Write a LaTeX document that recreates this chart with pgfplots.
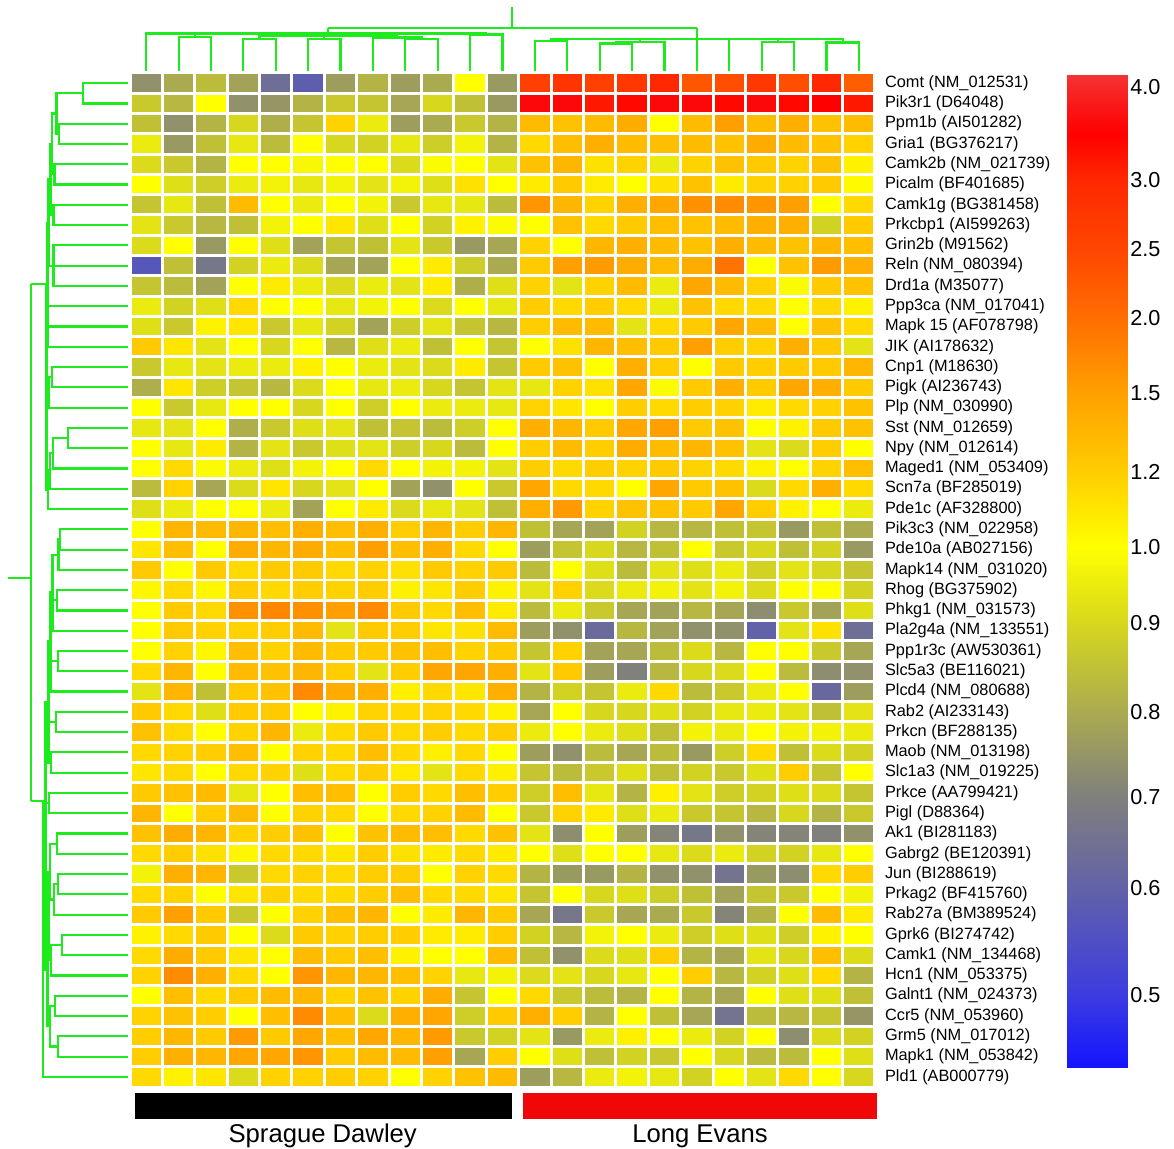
\documentclass[border=0pt]{standalone}
\usepackage{pgfplots}
\pgfplotsset{compat=1.18}
\usepackage{pgfplotstable}
\usepackage{fontspec}
\setmainfont{Liberation Sans}
\definecolor{dgreen}{RGB}{30,235,30}
\definecolor{lered}{RGB}{240,8,8}
\pgfdeclareplotmark{cell}{\pgfpathrectangle{\pgfpoint{-8.8pt}{-5.2pt}}{\pgfpoint{17.6pt}{10.4pt}}\pgfusepathqfill}
% ratio -> position on the (non-linear) colour bar
\pgfmathdeclarefunction{rpos}{1}{\pgfmathparse{(#1<0.5) ? ((#1-0.43)*1.0429) : ((#1<0.6) ? (0.073+(#1-0.5)*1.07) : ((#1<0.7) ? (0.18+(#1-0.6)*0.92) : ((#1<0.8) ? (0.272+(#1-0.7)*0.86) : ((#1<0.9) ? (0.358+(#1-0.8)*0.9) : ((#1<1) ? (0.448+(#1-0.9)*0.76) : ((#1<1.2) ? (0.524+(#1-1)*0.38) : ((#1<1.5) ? (0.6+(#1-1.2)*0.26333) : ((#1<2) ? (0.679+(#1-1.5)*0.152) : ((#1<2.5) ? (0.755+(#1-2)*0.14) : ((#1<3) ? (0.825+(#1-2.5)*0.138) : ((#1<3.5) ? (0.894+(#1-3)*0.094) : (0.941+(#1-3.5)*0.0937))))))))))))}}
\pgfplotsset{dendro/.style={draw=dgreen, line width=1.3pt, line join=miter},
  colormap={hm}{rgb255(0pt)=(20,20,255); rgb255(73pt)=(60,60,225); rgb255(180pt)=(98,98,168); rgb255(272pt)=(128,128,125); rgb255(358pt)=(170,170,80); rgb255(448pt)=(215,215,30); rgb255(524pt)=(255,255,0); rgb255(600pt)=(255,205,0); rgb255(679pt)=(255,160,0); rgb255(755pt)=(255,110,0); rgb255(825pt)=(255,70,0); rgb255(894pt)=(255,40,0); rgb255(941pt)=(255,0,0); rgb255(1000pt)=(245,50,50)}}
\pgfplotstableread{
row c1 c2 c3 c4 c5 c6 c7 c8 c9 c10 c11 c12 c13 c14 c15 c16 c17 c18 c19 c20 c21 c22 c23
1 0.74 0.80 0.84 0.78 0.64 0.59 0.77 0.82 0.77 0.80 1.00 0.76 2.60 2.80 2.60 2.75 3.00 2.30 2.40 2.75 2.40 3.00 2.20
2 0.87 0.83 1.00 0.74 0.75 0.82 0.87 0.86 0.79 0.90 0.85 0.76 3.60 3.60 3.20 3.40 3.60 3.60 3.40 3.60 3.40 3.50 3.20
3 0.85 0.74 0.82 0.90 0.81 0.86 1.18 0.95 0.77 0.80 0.87 0.82 1.32 1.27 1.32 1.42 1.00 1.32 1.50 1.32 1.40 1.27 1.32
4 0.95 0.76 0.85 0.94 0.84 1.00 0.90 0.89 0.94 0.88 0.97 0.82 1.15 1.30 1.40 1.32 1.30 1.32 1.27 1.42 1.32 1.27 1.18
5 0.91 0.87 0.82 1.00 1.00 0.98 1.00 1.00 0.91 0.99 1.00 0.93 1.27 1.35 1.12 1.18 0.95 1.18 1.27 1.22 1.18 1.27 1.05
6 1.00 0.92 0.88 0.95 0.97 0.94 0.97 0.93 0.97 0.92 1.12 1.00 1.08 1.22 1.08 1.00 1.12 1.27 1.08 1.18 1.18 1.22 1.02
7 0.86 0.94 0.85 1.32 1.00 0.95 1.00 0.97 0.87 0.94 0.94 0.84 1.60 1.35 1.18 1.40 1.45 1.65 1.70 1.60 1.50 1.00 1.15
8 0.93 0.87 0.83 0.85 0.97 1.00 1.10 0.92 1.00 0.89 1.05 0.99 1.00 1.27 1.15 1.22 1.30 1.27 1.32 1.40 1.40 0.89 1.22
9 0.91 1.00 0.76 1.00 0.92 0.78 0.86 0.85 0.93 0.87 0.76 0.79 1.18 1.00 1.35 1.40 1.32 1.27 1.40 1.32 1.27 1.35 1.30
10 0.57 0.85 0.67 0.89 0.95 0.91 0.79 0.78 1.00 1.08 0.88 0.80 1.22 1.50 1.55 1.42 1.32 1.42 1.95 1.00 1.27 1.55 1.40
11 0.86 0.84 0.78 1.00 1.08 0.95 0.91 0.95 0.93 1.08 0.81 0.92 1.18 0.93 1.18 1.32 0.95 1.45 1.32 1.18 0.99 1.22 1.27
12 0.95 0.89 0.92 1.15 1.00 1.00 0.94 0.97 1.00 0.91 1.00 0.94 1.20 1.15 1.20 1.15 0.95 1.27 1.15 1.15 1.00 1.15 1.05
13 0.92 0.87 1.05 1.10 0.87 0.94 0.89 0.78 0.88 0.93 0.86 0.83 1.20 1.32 1.32 0.93 1.15 1.22 1.45 1.32 1.00 1.27 1.15
14 1.22 1.10 0.93 1.00 0.90 1.00 0.83 0.92 0.95 0.85 1.00 0.86 1.00 1.12 1.35 1.30 1.22 1.50 1.20 1.18 1.40 1.22 0.93
15 0.87 0.94 0.93 0.95 0.95 1.06 1.00 0.95 0.93 0.91 1.08 0.86 1.22 1.27 1.00 1.40 1.20 1.00 1.22 1.20 1.22 1.22 1.35
16 0.81 1.10 0.88 0.86 0.83 0.91 1.00 0.94 0.95 0.90 0.86 0.93 0.94 1.18 1.12 1.45 0.99 1.22 1.40 1.22 1.45 1.40 1.22
17 1.00 0.87 0.94 1.00 1.00 0.90 1.00 0.88 1.00 0.95 0.95 0.94 1.18 1.10 1.00 1.20 1.15 1.20 1.18 1.08 1.15 1.18 1.27
18 0.94 0.93 1.00 0.81 0.87 0.92 0.93 0.85 0.86 0.84 0.88 1.00 1.40 1.35 1.22 1.45 1.50 1.22 1.27 1.00 1.05 1.22 1.27
19 1.00 0.94 1.08 0.82 0.93 0.87 0.92 0.93 0.88 0.90 0.84 1.00 1.20 1.32 1.20 1.42 1.32 1.35 1.27 0.93 0.91 1.20 1.00
20 1.00 1.15 0.99 0.95 0.92 0.97 1.00 1.15 1.00 0.97 0.97 0.93 1.20 1.15 1.20 1.18 1.22 1.18 1.15 1.05 1.00 1.18 1.30
21 0.84 1.18 0.79 0.91 1.10 0.90 0.93 1.00 0.78 0.74 1.00 0.87 1.45 1.15 1.15 1.00 1.45 1.22 1.27 0.91 1.15 1.40 1.15
22 0.92 0.95 1.00 1.00 0.95 0.78 1.00 1.08 0.91 0.94 0.93 0.85 1.40 1.55 1.18 1.27 1.27 1.22 1.45 1.20 1.05 1.00 0.95
23 1.00 1.35 1.32 1.35 1.30 1.40 1.30 1.40 1.20 1.35 1.20 1.35 0.85 0.79 0.78 0.89 0.83 0.83 0.85 0.86 0.76 0.85 0.80
24 1.10 1.30 1.00 1.42 1.35 1.42 1.30 1.50 1.30 1.40 1.15 1.00 0.77 0.86 0.90 0.83 0.85 1.00 0.87 0.90 0.85 0.89 0.76
25 1.22 1.00 1.22 1.15 1.22 1.22 1.15 1.18 1.12 1.22 1.18 1.22 0.84 1.00 0.92 0.84 0.93 0.92 0.95 0.89 0.93 0.90 0.86
26 1.03 1.15 1.03 1.20 1.15 1.20 1.18 1.20 1.05 1.10 1.20 1.05 0.93 1.18 0.91 0.95 0.97 0.93 0.97 0.91 1.00 1.00 0.89
27 1.00 1.22 1.15 1.65 1.75 1.65 1.50 1.70 1.22 1.15 1.30 1.08 0.84 0.95 0.87 0.79 0.78 0.83 0.79 0.73 0.87 0.78 0.92
28 1.00 1.22 1.18 1.18 1.20 1.32 0.93 1.22 1.20 1.10 1.12 1.32 0.77 0.74 0.63 0.83 0.78 0.74 0.74 0.60 0.93 1.12 0.64
29 1.00 1.18 1.03 1.30 1.18 1.32 1.22 1.22 1.27 1.30 1.18 1.22 0.86 1.18 0.78 0.79 0.84 0.91 0.83 1.00 1.00 0.87 0.79
30 1.15 1.35 1.00 1.32 1.27 1.35 1.20 0.93 1.20 1.45 1.45 1.40 0.93 1.22 0.77 0.70 0.83 0.90 0.91 1.00 0.84 0.73 0.74
31 0.93 1.35 0.85 1.22 1.27 1.70 1.42 1.40 1.06 1.15 1.10 1.40 0.82 0.89 0.86 0.95 1.15 0.84 0.87 0.95 1.00 0.62 0.77
32 1.22 1.15 0.92 1.22 1.22 1.00 1.05 1.18 1.15 1.18 1.15 1.05 0.79 1.00 0.90 0.90 0.92 0.89 0.94 0.95 0.93 0.85 0.93
33 1.27 1.15 1.00 1.18 1.35 0.95 1.15 1.22 1.15 1.20 1.15 1.20 0.95 1.00 0.95 0.92 0.85 0.97 0.95 1.00 0.97 0.97 0.95
34 1.15 1.18 1.20 1.30 1.00 1.18 1.15 1.30 1.15 1.06 1.15 1.00 0.77 0.74 0.84 0.79 0.84 0.76 0.88 1.15 0.85 0.91 0.89
35 1.10 1.15 1.00 1.15 1.18 0.92 1.15 1.20 1.08 0.93 1.15 1.06 0.86 0.84 0.87 0.92 0.85 0.89 0.87 0.92 1.20 0.86 1.00
36 1.22 1.27 1.32 0.94 1.00 1.30 1.30 1.00 1.20 1.15 1.30 1.20 0.88 1.30 0.94 0.82 1.06 0.93 0.88 0.89 0.92 0.91 0.86
37 1.35 1.00 1.20 1.32 1.00 1.18 1.15 1.00 1.15 1.18 1.32 1.00 0.87 1.18 1.08 0.92 0.95 0.87 0.86 0.83 0.90 0.82 0.87
38 1.27 1.42 1.35 1.18 1.20 1.27 1.00 1.27 1.32 1.30 1.15 1.27 0.93 0.73 1.00 0.77 0.71 0.67 0.74 0.71 0.71 0.70 0.74
39 1.15 1.20 1.12 1.03 1.15 1.15 1.10 1.20 1.12 1.08 1.15 1.08 1.00 0.92 1.00 1.00 0.94 0.91 0.95 0.89 0.89 0.94 1.00
40 0.97 1.40 1.35 0.87 1.15 1.18 1.15 1.20 1.20 1.00 1.18 1.15 0.82 0.76 0.76 0.82 0.74 0.74 0.66 0.76 0.73 1.15 1.20
41 1.15 1.18 1.00 1.10 1.18 1.15 1.15 1.20 1.30 1.15 1.15 1.10 0.86 1.00 0.90 0.92 0.88 0.85 0.78 0.86 0.87 1.00 0.97
42 1.22 1.50 1.22 0.87 1.00 1.18 1.30 1.35 1.00 1.08 1.35 1.22 0.79 0.67 0.87 0.79 0.80 0.87 0.71 0.82 1.00 1.32 1.08
43 1.05 1.15 1.22 1.00 0.91 1.22 1.18 1.20 1.20 1.08 1.08 1.20 0.89 0.83 0.97 1.00 0.95 0.88 0.92 0.92 0.88 1.05 1.00
44 1.15 1.42 1.22 1.10 1.00 1.32 1.22 1.30 1.05 1.00 1.00 1.32 0.85 0.74 0.91 0.92 1.20 0.82 0.79 0.93 0.90 1.30 0.91
45 1.18 1.70 1.40 1.15 1.00 1.60 1.35 1.35 1.30 1.18 0.94 0.97 0.91 0.93 0.90 0.94 1.00 1.20 0.83 0.89 0.92 1.15 0.82
46 1.00 1.30 1.15 1.22 1.32 1.35 1.18 1.27 1.18 1.42 0.86 1.00 1.15 0.87 0.84 0.82 1.00 0.82 0.79 1.00 0.92 0.92 0.85
47 1.18 1.27 1.20 1.00 1.30 1.70 1.30 0.91 1.40 1.45 0.88 1.22 1.40 1.20 0.82 1.00 0.85 0.79 0.66 0.84 0.83 0.86 0.75
48 1.20 1.35 1.22 1.55 1.22 1.45 1.30 1.45 1.35 1.55 0.87 0.89 0.93 0.76 0.95 1.06 1.00 0.95 0.89 1.00 0.73 0.91 0.89
49 1.20 1.40 1.35 1.45 1.45 1.60 1.22 1.32 1.32 1.50 0.79 1.20 1.00 0.92 0.85 0.89 0.87 1.00 0.90 0.84 0.84 1.00 0.92
50 1.15 1.05 1.10 0.91 1.18 1.18 1.20 1.18 1.00 1.18 1.27 1.32 0.77 0.83 0.95 0.97 0.94 0.89 1.00 0.93 1.15 1.00 0.90
}\hmdata
\begin{document}
\begin{tikzpicture}
\path[use as bounding box, fill=white] (0,0) rectangle (704.4pt,688.8pt);
% ---------------- heat map ----------------
\begin{axis}[
  name=hm, at={(78pt,645pt)}, anchor=north west,
  scale only axis, width=447pt, height=608.4pt,
  xmin=0.5, xmax=23.5, ymin=0.5, ymax=50.5, y dir=reverse,
  clip=false,
  axis line style={draw=none},
  xtick=\empty,
  ytick={1,...,50},
  yticklabels={Comt (NM\_012531), Pik3r1 (D64048), Ppm1b (AI501282), Gria1 (BG376217), Camk2b (NM\_021739), Picalm (BF401685), Camk1g (BG381458), Prkcbp1 (AI599263), Grin2b (M91562), Reln (NM\_080394), Drd1a (M35077), Ppp3ca (NM\_017041), Mapk 15 (AF078798), JIK (AI178632), Cnp1 (M18630), Pigk (AI236743), Plp (NM\_030990), Sst (NM\_012659), Npy (NM\_012614), Maged1 (NM\_053409), Scn7a (BF285019), Pde1c (AF328800), Pik3c3 (NM\_022958), Pde10a (AB027156), Mapk14 (NM\_031020), Rhog (BG375902), Phkg1 (NM\_031573), Pla2g4a (NM\_133551), Ppp1r3c (AW530361), Slc5a3 (BE116021), Plcd4 (NM\_080688), Rab2 (AI233143), Prkcn (BF288135), Maob (NM\_013198), Slc1a3 (NM\_019225), Prkce (AA799421), Pigl (D88364), Ak1 (BI281183), Gabrg2 (BE120391), Jun (BI288619), Prkag2 (BF415760), Rab27a (BM389524), Gprk6 (BI274742), Camk1 (NM\_134468), Hcn1 (NM\_053375), Galnt1 (NM\_024373), Ccr5 (NM\_053960), Grm5 (NM\_017012), Mapk1 (NM\_053842), Pld1 (AB000779)},
  yticklabel pos=right,
  major tick length=0pt,
  yticklabel style={font=\fontsize{9.8}{10}\selectfont, xshift=2.5pt},
  colormap name=hm,
  point meta min=0, point meta max=1,
]
\pgfplotsinvokeforeach{1,...,23}{
  \addplot[scatter, only marks, mark=cell,
    scatter/use mapped color={fill=mapped color, draw=none},
    point meta={rpos(\thisrow{c#1})}] table[x expr=#1, y=row] \hmdata;
}
\end{axis}
% ---------------- colour bar ----------------
\begin{axis}[
  at={(640.2pt,643.8pt)}, anchor=north west,
  scale only axis, width=36pt, height=595.2pt,
  xmin=0, xmax=1, ymin=0, ymax=1,
  colormap name=hm, point meta min=0, point meta max=1,
  axis line style={draw=none}, xtick=\empty,
  ytick={0.073,0.180,0.272,0.358,0.448,0.524,0.600,0.679,0.755,0.825,0.894,0.988},
  yticklabels={0.5,0.6,0.7,0.8,0.9,1.0,1.2,1.5,2.0,2.5,3.0,4.0},
  yticklabel pos=right, major tick length=0pt,
  yticklabel style={font=\fontsize{13}{13}\selectfont, xshift=-1.5pt},
]
\addplot[surf, shader=interp, mesh/cols=2, mesh/rows=14, point meta=y] coordinates {
(0,0) (1,0)

(0,0.073) (1,0.073)

(0,0.180) (1,0.180)

(0,0.272) (1,0.272)

(0,0.358) (1,0.358)

(0,0.448) (1,0.448)

(0,0.524) (1,0.524)

(0,0.600) (1,0.600)

(0,0.679) (1,0.679)

(0,0.755) (1,0.755)

(0,0.825) (1,0.825)

(0,0.894) (1,0.894)

(0,0.941) (1,0.941)

(0,1) (1,1)
};
\end{axis}
% ---------------- top dendrogram (samples) ----------------
\begin{axis}[
  at={(78pt,688.8pt)}, anchor=north west,
  scale only axis, width=447pt, height=43.8pt,
  xmin=0.5, xmax=23.5, ymin=0, ymax=73, y dir=reverse,
  hide axis, clip=false]
\addplot[dendro] coordinates {(2,71) (2,36.8) (3,36.8) (3,71)};
\addplot[dendro] coordinates {(4,71) (4,38.7) (5,38.7) (5,71)};
\addplot[dendro] coordinates {(6,71) (6,39.3) (7,39.3) (7,71)};
\addplot[dendro] coordinates {(9,71) (9,38.7) (10,38.7) (10,71)};
\addplot[dendro] coordinates {(8,71) (8,37.5) (9.5,37.5) (9.5,38.7)};
\addplot[dendro] coordinates {(4.5,38.7) (4.5,36) (8.75,36) (8.75,37.5)};
\addplot[dendro] coordinates {(6.5,39.3) (6.5,36)};
\addplot[dendro] coordinates {(11,71) (11,34.5) (12,34.5) (12,71)};
\addplot[dendro] coordinates {(1,71) (1,33.5) (11.5,33.5) (11.5,34.5)};
\addplot[dendro] coordinates {(2.5,36.8) (2.5,33.5)};
\addplot[dendro] coordinates {(6.6,36) (6.6,28)};
\addplot[dendro] coordinates {(13,71) (13,41) (14,41) (14,71)};
\addplot[dendro] coordinates {(15,71) (15,43.5) (16,43.5) (16,71)};
\addplot[dendro] coordinates {(15.5,43.5) (15.5,42) (17,42) (17,71)};
\addplot[dendro] coordinates {(20,71) (20,42) (21,42) (21,71)};
\addplot[dendro] coordinates {(22,71) (22,42.5) (23,42.5) (23,71)};
\addplot[dendro] coordinates {(13.5,41) (13.5,39.3) (22.5,39.3) (22.5,42.5)};
\addplot[dendro] coordinates {(16.25,42) (16.25,39.3)};
\addplot[dendro] coordinates {(18,71) (18,28)};
\addplot[dendro] coordinates {(19,71) (19,39.3)};
\addplot[dendro] coordinates {(20.5,42) (20.5,39.3)};
\addplot[dendro] coordinates {(6.6,28) (18,28)};
\addplot[dendro] coordinates {(12.3,28) (12.3,7)};
\end{axis}
% ---------------- left dendrogram (genes) ----------------
\begin{axis}[
  at={(0pt,645pt)}, anchor=north west,
  scale only axis, width=78pt, height=608.4pt,
  xmin=0, xmax=130, ymin=0.5, ymax=50.5, y dir=reverse,
  hide axis, clip=false]
\addplot[dendro] coordinates {(128,1) (83,1) (83,2) (128,2)};
\addplot[dendro] coordinates {(128,3) (59,3) (59,4) (128,4)};
\addplot[dendro] coordinates {(83,1.5) (56.5,1.5) (56.5,3.5) (59,3.5)};
\addplot[dendro] coordinates {(128,5) (54.5,5) (54.5,6) (128,6)};
\addplot[dendro] coordinates {(128,7) (53.5,7) (53.5,8) (128,8)};
\addplot[dendro] coordinates {(56.5,2.5) (52,2.5) (52,5.5) (54.5,5.5)};
\addplot[dendro] coordinates {(52,4) (50.5,4) (50.5,7.5) (53.5,7.5)};
\addplot[dendro] coordinates {(128,9) (53.5,9) (53.5,11) (128,11)};
\addplot[dendro] coordinates {(128,10) (48.5,10)};
\addplot[dendro] coordinates {(50.5,5.75) (48.5,5.75) (48.5,10)};
\addplot[dendro] coordinates {(48.5,7.9) (47.5,7.9) (47.5,14) (128,14)};
\addplot[dendro] coordinates {(128,12) (47.5,12)};
\addplot[dendro] coordinates {(128,13) (47.5,13)};
\addplot[dendro] coordinates {(128,15) (51.7,15) (51.7,16) (128,16)};
\addplot[dendro] coordinates {(51.7,15.5) (48.5,15.5) (48.5,17) (128,17)};
\addplot[dendro] coordinates {(128,18) (68,18) (68,19) (128,19)};
\addplot[dendro] coordinates {(68,18.5) (53,18.5) (53,20) (128,20)};
\addplot[dendro] coordinates {(53,19.25) (50,19.25) (50,21) (128,21)};
\addplot[dendro] coordinates {(50,20.1) (48,20.1) (48,22) (128,22)};
\addplot[dendro] coordinates {(47.5,10.9) (46.5,10.9) (46.5,21.05) (48,21.05)};
\addplot[dendro] coordinates {(48.5,16.25) (46.5,16.25)};
\addplot[dendro] coordinates {(46.5,10.9) (31,10.9)};
\addplot[dendro] coordinates {(128,23) (60,23) (60,24) (128,24)};
\addplot[dendro] coordinates {(60,23.5) (58.5,23.5) (58.5,25) (128,25)};
\addplot[dendro] coordinates {(128,26) (57,26) (57,27) (128,27)};
\addplot[dendro] coordinates {(128,29) (58,29) (58,30) (128,30)};
\addplot[dendro] coordinates {(128,32) (56,32) (56,33) (128,33)};
\addplot[dendro] coordinates {(128,34) (51,34) (51,35) (128,35)};
\addplot[dendro] coordinates {(128,36) (49,36) (49,37) (128,37)};
\addplot[dendro] coordinates {(128,38) (57,38) (57,39) (128,39)};
\addplot[dendro] coordinates {(128,40) (58,40) (58,41) (128,41)};
\addplot[dendro] coordinates {(58,40.5) (54,40.5) (54,42) (128,42)};
\addplot[dendro] coordinates {(128,43) (62,43) (62,44) (128,44)};
\addplot[dendro] coordinates {(62,43.5) (51,43.5) (51,45) (128,45)};
\addplot[dendro] coordinates {(128,46) (55,46) (55,47) (128,47)};
\addplot[dendro] coordinates {(128,48) (58,48) (58,49) (128,49)};
\addplot[dendro] coordinates {(55,46.5) (50,46.5) (50,48.5) (58,48.5)};
\addplot[dendro] coordinates {(58.5,24.25) (52.5,24.25) (52.5,28) (128,28)};
\addplot[dendro] coordinates {(57,26.5) (52.5,26.5)};
\addplot[dendro] coordinates {(52.5,26.1) (50.5,26.1) (50.5,31) (128,31)};
\addplot[dendro] coordinates {(58,29.5) (50.5,29.5)};
\addplot[dendro] coordinates {(50.5,28.5) (48.5,28.5) (48.5,34.5) (51,34.5)};
\addplot[dendro] coordinates {(56,32.5) (48.5,32.5)};
\addplot[dendro] coordinates {(57,38.5) (50,38.5) (50,41.25) (54,41.25)};
\addplot[dendro] coordinates {(50,39.9) (48.5,39.9) (48.5,44.25) (51,44.25)};
\addplot[dendro] coordinates {(48.5,42) (47.5,42) (47.5,47.5) (50,47.5)};
\addplot[dendro] coordinates {(48.5,31.5) (45.5,31.5) (45.5,44.75) (47.5,44.75)};
\addplot[dendro] coordinates {(49,36.5) (45.5,36.5)};
\addplot[dendro] coordinates {(45.5,36.4) (43,36.4) (43,50) (128,50)};
\addplot[dendro] coordinates {(43,36.4) (31,36.4)};
\addplot[dendro] coordinates {(31,10.9) (31,36.4)};
\addplot[dendro] coordinates {(31,25.4) (8,25.4)};
\end{axis}
% ---------------- group bars ----------------
\begin{axis}[
  at={(78pt,36.6pt)}, anchor=north west,
  scale only axis, width=447pt, height=36.6pt,
  xmin=0.5, xmax=23.5, ymin=1087, ymax=1148, y dir=reverse,
  hide axis, clip=false]
\addplot[fill=black, draw=none] coordinates {(0.654,1093) (12.29,1093) (12.29,1119) (0.654,1119)} -- cycle;
\addplot[fill=lered, draw=none] coordinates {(12.63,1093) (23.56,1093) (23.56,1119) (12.63,1119)} -- cycle;
\node[font=\fontsize{15.4}{16}\selectfont, anchor=base] at (axis cs:6.45,1142) {Sprague Dawley};
\node[font=\fontsize{15.4}{16}\selectfont, anchor=base] at (axis cs:18.1,1142) {Long Evans};
\end{axis}
\end{tikzpicture}
\end{document}
